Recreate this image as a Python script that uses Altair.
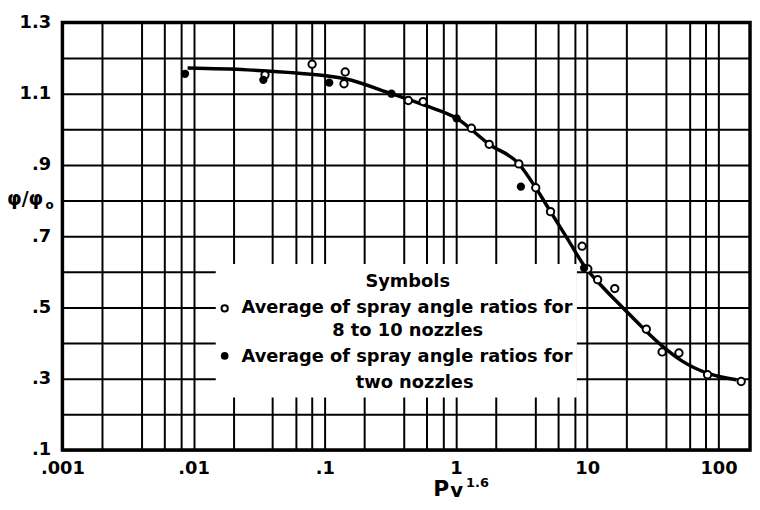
import altair as alt
import pandas as pd

# ---- data ----
open_x = [0.035, 0.080, 0.143, 0.140, 0.433, 0.561, 1.31, 1.79, 3.01, 4.05,
          5.25, 9.14, 10.1, 12.0, 16.2, 28.2, 37.2, 50.0, 82.6, 149]
open_y = [1.153, 1.183, 1.161, 1.128, 1.081, 1.078, 1.003, 0.958, 0.903, 0.836,
          0.769, 0.672, 0.608, 0.578, 0.553, 0.439, 0.375, 0.372, 0.311, 0.292]

filled_x = [0.0086, 0.034, 0.108, 0.322, 1.01, 3.12, 9.46]
filled_y = [1.156, 1.139, 1.131, 1.100, 1.031, 0.839, 0.611]

curve_x = [0.0090, 0.0256, 0.061, 0.143, 0.322, 0.58, 1.01, 1.79, 3.01, 4.05,
           5.25, 7.17, 9.6, 13.2, 18.6, 26.3, 37.2, 52.6, 84.1, 137]
curve_y = [1.172, 1.167, 1.158, 1.142, 1.100, 1.067, 1.031, 0.958, 0.903, 0.836,
           0.769, 0.689, 0.614, 0.556, 0.500, 0.444, 0.392, 0.350, 0.314, 0.297]

x_grid = [0.001, 0.002, 0.004, 0.006, 0.008,
          0.01, 0.02, 0.04, 0.06, 0.08,
          0.1, 0.2, 0.4, 0.6, 0.8,
          1, 2, 4, 6, 8,
          10, 20, 40, 60, 80,
          100]
x_label_values = [0.001, 0.01, 0.1, 1, 10, 100]
x_label_texts = [".001", ".01", ".1", "1", "10", "100"]

y_grid = [0.1, 0.2, 0.3, 0.4, 0.5, 0.6, 0.7, 0.8, 0.9, 1.0, 1.1, 1.2, 1.3]
y_label_values = [0.1, 0.3, 0.5, 0.7, 0.9, 1.1, 1.3]
y_label_texts = [".1", ".3", ".5", ".7", ".9", "1.1", "1.3"]

legend_title = "Symbols"
legend_lines_open = ["Average of spray angle ratios for", "8 to 10 nozzles"]
legend_lines_filled = ["Average of spray angle ratios for", "two nozzles"]

FONT = "DejaVu Sans"

# ---- label expressions ----
def make_expr(vals, texts, tol):
    expr = "''"
    for v, t in reversed(list(zip(vals, texts))):
        expr = f"abs(datum.value - {v}) < {tol} * {v} ? '{t}' : ({expr})"
    return expr

x_expr = make_expr(x_label_values, x_label_texts, 0.01)
y_expr = make_expr(y_label_values, y_label_texts, 0.01)

pts = pd.DataFrame({
    "x": open_x + filled_x,
    "y": open_y + filled_y,
    "kind": ["open"] * len(open_x) + ["filled"] * len(filled_x),
})
curve = pd.DataFrame({"x": curve_x, "y": curve_y})

x_enc = alt.X("x:Q", scale=alt.Scale(type="log", domain=[0.001, 174], nice=False),
              axis=alt.Axis(values=x_grid, labelExpr=x_expr, title=None,
                            labelOverlap=False, labelFlush=False, labelPadding=10))
y_enc = alt.Y("y:Q", scale=alt.Scale(domain=[0.1, 1.3], nice=False, zero=False),
              axis=alt.Axis(values=y_grid, labelExpr=y_expr, title=None,
                            labelOverlap=False, labelFlush=False, labelPadding=12))

one = pd.DataFrame({"a": [0]})

line = alt.Chart(curve).mark_line(color="black", strokeWidth=3.5,
                                  interpolate="monotone").encode(x=x_enc, y=y_enc)

box = alt.Chart(one).mark_rect(color="white").encode(
    x=alt.value(155), x2=alt.value(520), y=alt.value(244), y2=alt.value(379))

open_pts = alt.Chart(pts).transform_filter("datum.kind == 'open'").mark_point(
    shape="circle", size=55, filled=True, fill="white", stroke="black",
    strokeWidth=2, opacity=1).encode(x=x_enc, y=y_enc)
filled_pts = alt.Chart(pts).transform_filter("datum.kind == 'filled'").mark_point(
    shape="circle", size=70, filled=True, color="black", opacity=1).encode(x=x_enc, y=y_enc)

def txt(s, x, y, size=18, align="left", weight="bold", baseline="middle"):
    return alt.Chart(one).mark_text(
        text=s, font=FONT, fontSize=size, fontWeight=weight, align=align,
        baseline=baseline, color="black").encode(x=alt.value(x), y=alt.value(y))

leg_open = alt.Chart(one).mark_point(shape="circle", size=40, filled=True, fill="white",
                                     stroke="black", strokeWidth=2, opacity=1).encode(
    x=alt.value(164), y=alt.value(289))
leg_filled = alt.Chart(one).mark_point(shape="circle", size=60, filled=True, color="black",
                                       opacity=1).encode(x=alt.value(164), y=alt.value(337))

texts = [
    txt(legend_title, 349, 262, align="center"),
    txt(legend_lines_open[0], 181, 289),
    txt(legend_lines_open[1], 349, 312, align="center"),
    txt(legend_lines_filled[0], 181, 338),
    txt(legend_lines_filled[1], 356, 364, align="center"),
    txt("φ/φ", -56, 178, size=19),
    txt("o", -17, 184, size=12),
    txt("P", 391, 479, size=22, align="right", baseline="alphabetic"),
    txt("v", 392, 480, size=20, baseline="alphabetic"),
    txt("1.6", 408, 469, size=13, baseline="alphabetic"),
]

chart = alt.layer(box, line, open_pts, filled_pts, leg_open, leg_filled, *texts).properties(
    width=695, height=432,
    background="white",
    autosize=alt.AutoSizeParams(type="none"),
    padding={"left": 55, "top": 12, "right": 2, "bottom": 50},
).configure_view(stroke="black", strokeWidth=3.5).configure_axis(
    grid=True, gridColor="black", gridWidth=2, gridOpacity=1,
    domain=False, ticks=False,
    labelFont=FONT, labelFontSize=18, labelFontWeight="bold", labelColor="black",
)

chart.save("out.html", embed_options={"renderer": "svg", "actions": False})
